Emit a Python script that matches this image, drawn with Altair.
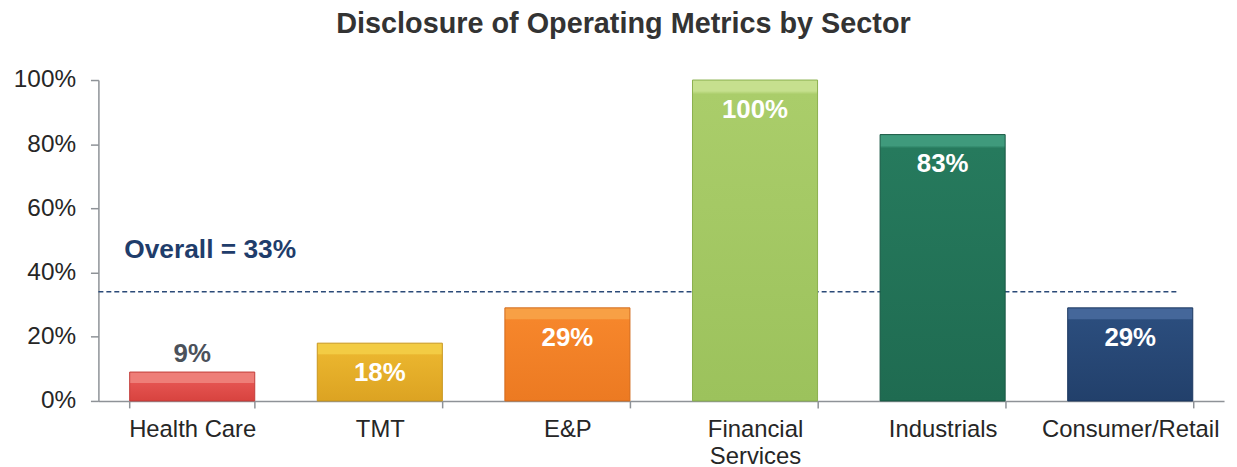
import altair as alt
import pandas as pd

sectors = ["Health Care", "TMT", "E&P", "Financial Services", "Industrials", "Consumer/Retail"]
values = [9, 18, 29, 100, 83, 29]
label_inside = [False, True, True, True, True, True]
top_colors = ["#EE7E78", "#F3CC44", "#F8A045", "#C6E08E", "#3F9A7C", "#45679A"]
main_colors = ["#E45350", "#EAB52E", "#F6862B", "#AACD6A", "#267A5D", "#2B4D7D"]
base_colors = ["#D8433F", "#DCA322", "#EC7A22", "#9CC25C", "#1F6B51", "#22406B"]
edge_colors = ["#C23C39", "#C8961F", "#D26A1C", "#8BB04E", "#185844", "#1B3760"]
overall_value = 34
overall_text = "Overall = 33%"
y_ticks = [0, 20, 40, 60, 80, 100]

FONT = "Liberation Sans"
W, H = 1133, 323

df = pd.DataFrame({
    "sector": sectors,
    "value": values,
    "inside": label_inside,
    "label": [f"{v}%" for v in values],
})

x_enc = alt.X(
    "sector:N",
    sort=sectors,
    scale=alt.Scale(paddingInner=1 / 3, paddingOuter=1 / 6),
    axis=alt.Axis(
        title=None,
        tickBand="extent",
        labelExpr="datum.label == 'Financial Services' ? ['Financial', 'Services'] : datum.label",
        labelFont=FONT,
        labelFontSize=24,
        labelColor="#262626",
        labelPadding=10,
        labelAngle=0,
        labelLineHeight=27,
        tickSize=7,
        domainColor="#8E9297",
        tickColor="#8E9297",
        domainWidth=1.5,
        tickWidth=1.5,
    ),
)
y_enc = alt.Y(
    "value:Q",
    scale=alt.Scale(domain=[0, 100]),
    axis=alt.Axis(
        title=None,
        values=y_ticks,
        labelExpr="datum.value + '%'",
        grid=False,
        labelFont=FONT,
        labelFontSize=24.5,
        labelColor="#262626",
        labelPadding=15,
        tickSize=8,
        domainColor="#8E9297",
        tickColor="#8E9297",
        domainWidth=1.5,
        tickWidth=1.5,
    ),
)

base = alt.Chart(df).encode(x=x_enc, y=y_enc)

rule = alt.Chart(pd.DataFrame({"v": [overall_value]})).mark_rule(
    color="#2B4A78", strokeDash=[5, 3], strokeWidth=1.5
).encode(y=alt.Y("v:Q"), x=alt.value(0), x2=alt.value(1086))

layers = [rule]
for s, v, tc, mc, bc, ec in zip(sectors, values, top_colors, main_colors, base_colors, edge_colors):
    h = v * H / 100.0
    f = min(0.45, 11.0 / h)
    grad = {
        "gradient": "linear",
        "x1": 0, "x2": 0, "y1": 0, "y2": 1,
        "stops": [
            {"offset": 0, "color": tc},
            {"offset": f, "color": tc},
            {"offset": min(0.99, f + 0.01), "color": mc},
            {"offset": 1, "color": bc},
        ],
    }
    layers.append(
        base.transform_filter(alt.datum.sector == s).mark_bar(
            color=grad, stroke=ec, strokeWidth=1
        )
    )

inside_text = base.transform_filter(alt.datum.inside == True).mark_text(
    color="white", font=FONT, fontSize=26, fontWeight="bold", baseline="alphabetic", dy=38
).encode(text="label:N")

outside_text = base.transform_filter(alt.datum.inside == False).mark_text(
    color="#4B515A", font=FONT, fontSize=26, fontWeight="bold", baseline="alphabetic", dy=-10
).encode(text="label:N")

overall = alt.Chart(pd.DataFrame({"t": [overall_text]})).mark_text(
    color="#1F3D6B", font=FONT, fontSize=26.5, fontWeight="bold", align="left", baseline="alphabetic"
).encode(text="t:N", x=alt.value(26), y=alt.value(179))

layers += [inside_text, outside_text, overall]

chart = alt.layer(*layers).properties(
    width=W,
    height=H,
    title=alt.TitleParams(
        text="Disclosure of Operating Metrics by Sector",
        font=FONT,
        fontSize=29,
        fontWeight="bold",
        color="#333333",
        anchor="middle",
        dx=-38,
        dy=-24,
    ),
    padding={"left": 91, "top": 71, "right": 5, "bottom": 66},
    autosize=alt.AutoSizeParams(type="none"),
).configure_view(stroke=None)

chart.save("out.html", embed_options={"renderer": "svg", "actions": False})
